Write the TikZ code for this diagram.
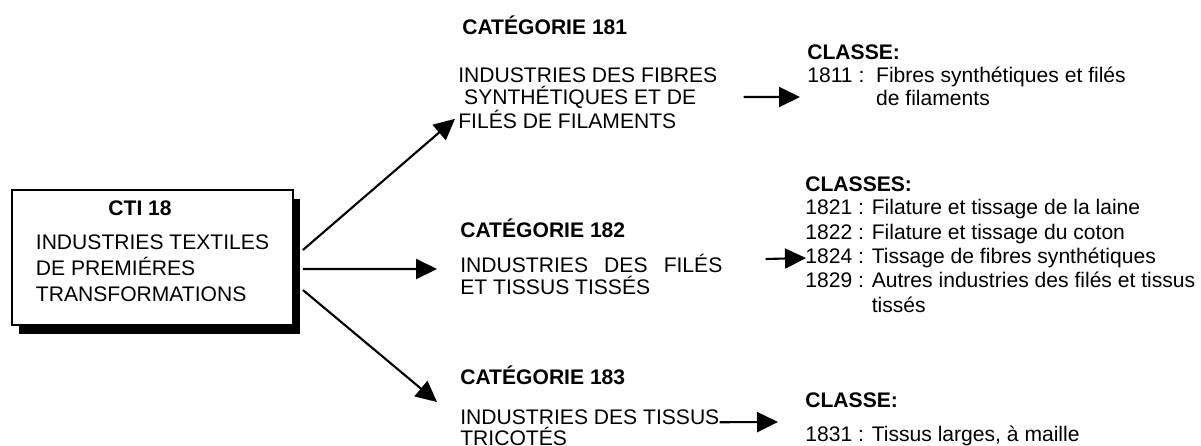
\documentclass[tikz,border=0pt]{standalone}
\usepackage{fontspec}
\setmainfont{Liberation Sans}
\usetikzlibrary{arrows.meta, positioning, calc, shadows}

\begin{document}
\begin{tikzpicture}[x=0.2mm, y=-0.2mm,
    every node/.style={font=\fontsize{12}{14}\selectfont, inner sep=0pt},
    box/.style={draw, line width=1pt, fill=white, align=left,
                minimum width=56.2mm, minimum height=27mm,
                general shadow={fill=black, shadow xshift=1.4mm, shadow yshift=-1.8mm}},
    hd/.style={anchor=west, font=\fontsize{12}{14}\selectfont\bfseries},
    txt/.style={anchor=west, align=left, font=\fontsize{12}{#1}\selectfont},
    txt/.default=14,
    arr/.style={-{Triangle[length=4.2mm, width=4mm]}, line width=1.2pt}
]
\useasboundingbox (0,0) rectangle (1201,445);
% CTI box
\node[box, font=\fontsize{12}{14.8}\selectfont] (cti) at (152.5,257.5)
    {\hspace*{14.5mm}\textbf{CTI 18}\\[1.6mm]
     INDUSTRIES TEXTILES\\DE PREMIÉRES\\TRANSFORMATIONS\rule[-2.6mm]{0pt}{0pt}};
% Category 181
\node[hd] (cat181) at (462,25) {CATÉGORIE 181};
\node[txt=12.5] (ind181) at (458,98)
    {INDUSTRIES DES FIBRES\\\ SYNTHÉTIQUES ET DE\\FILÉS DE FILAMENTS};
\node[hd] (cls181) at (807,52) {CLASSE:};
\node[txt=13] (lst181) at (807,86.5)
    {1811 :\ \ Fibres synthétiques et filés\\\phantom{1811 :\ \ }de filaments};
% Category 182
\node[hd] (cat182) at (460,228) {CATÉGORIE 182};
\node[txt=12.5] (ind182) at (460,274)
    {\makebox[52.4mm][s]{INDUSTRIES DES FILÉS}\\ET TISSUS TISSÉS};
\node[hd] (cls182) at (805,184) {CLASSES:};
\node[txt=13.9] (lst182) at (805,256)
    {1821 : Filature et tissage de la laine\\
     1822 : Filature et tissage du coton\\
     1824 : Tissage de fibres synthétiques\\
     1829 : Autres industries des filés et tissus\\
     \phantom{1829 : }tissés};
% Category 183
\node[hd] (cat183) at (460,375) {CATÉGORIE 183};
\node[txt=11.9] (ind183) at (460,428) {INDUSTRIES DES TISSUS\\TRICOTÉS};
\node[hd] (cls183) at (805,400) {CLASSE:};
\node[txt] (lst183) at (805,436) {1831 : Tissus larges, à maille};
% Arrows from the box
\draw[arr] ($(cti.east)+(9,-7.5)$) -- ($(ind181.south west)+(-3,-10)$);
\draw[arr] ($(cti.east)+(9,11.5)$) -- ($(ind182.west)+(-23,-5)$);
\draw[arr] ($(cti.east)+(9,32.5)$) -- ($(ind183.west)+(-23,-26)$);
% Arrows to the classes
\draw[arr] ($(ind181.east)+(26,-1)$) -- ($(lst181.west)+(-7,10.5)$);
\draw[arr] ($(ind182.east)+(43,-15)$) -- ($(lst182.west)+(1,2)$);
\draw[arr] ($(ind183.north east)+(0,12.5)$) -- ($(cls183.west)+(-27,22)$);
\end{tikzpicture}
\end{document}
